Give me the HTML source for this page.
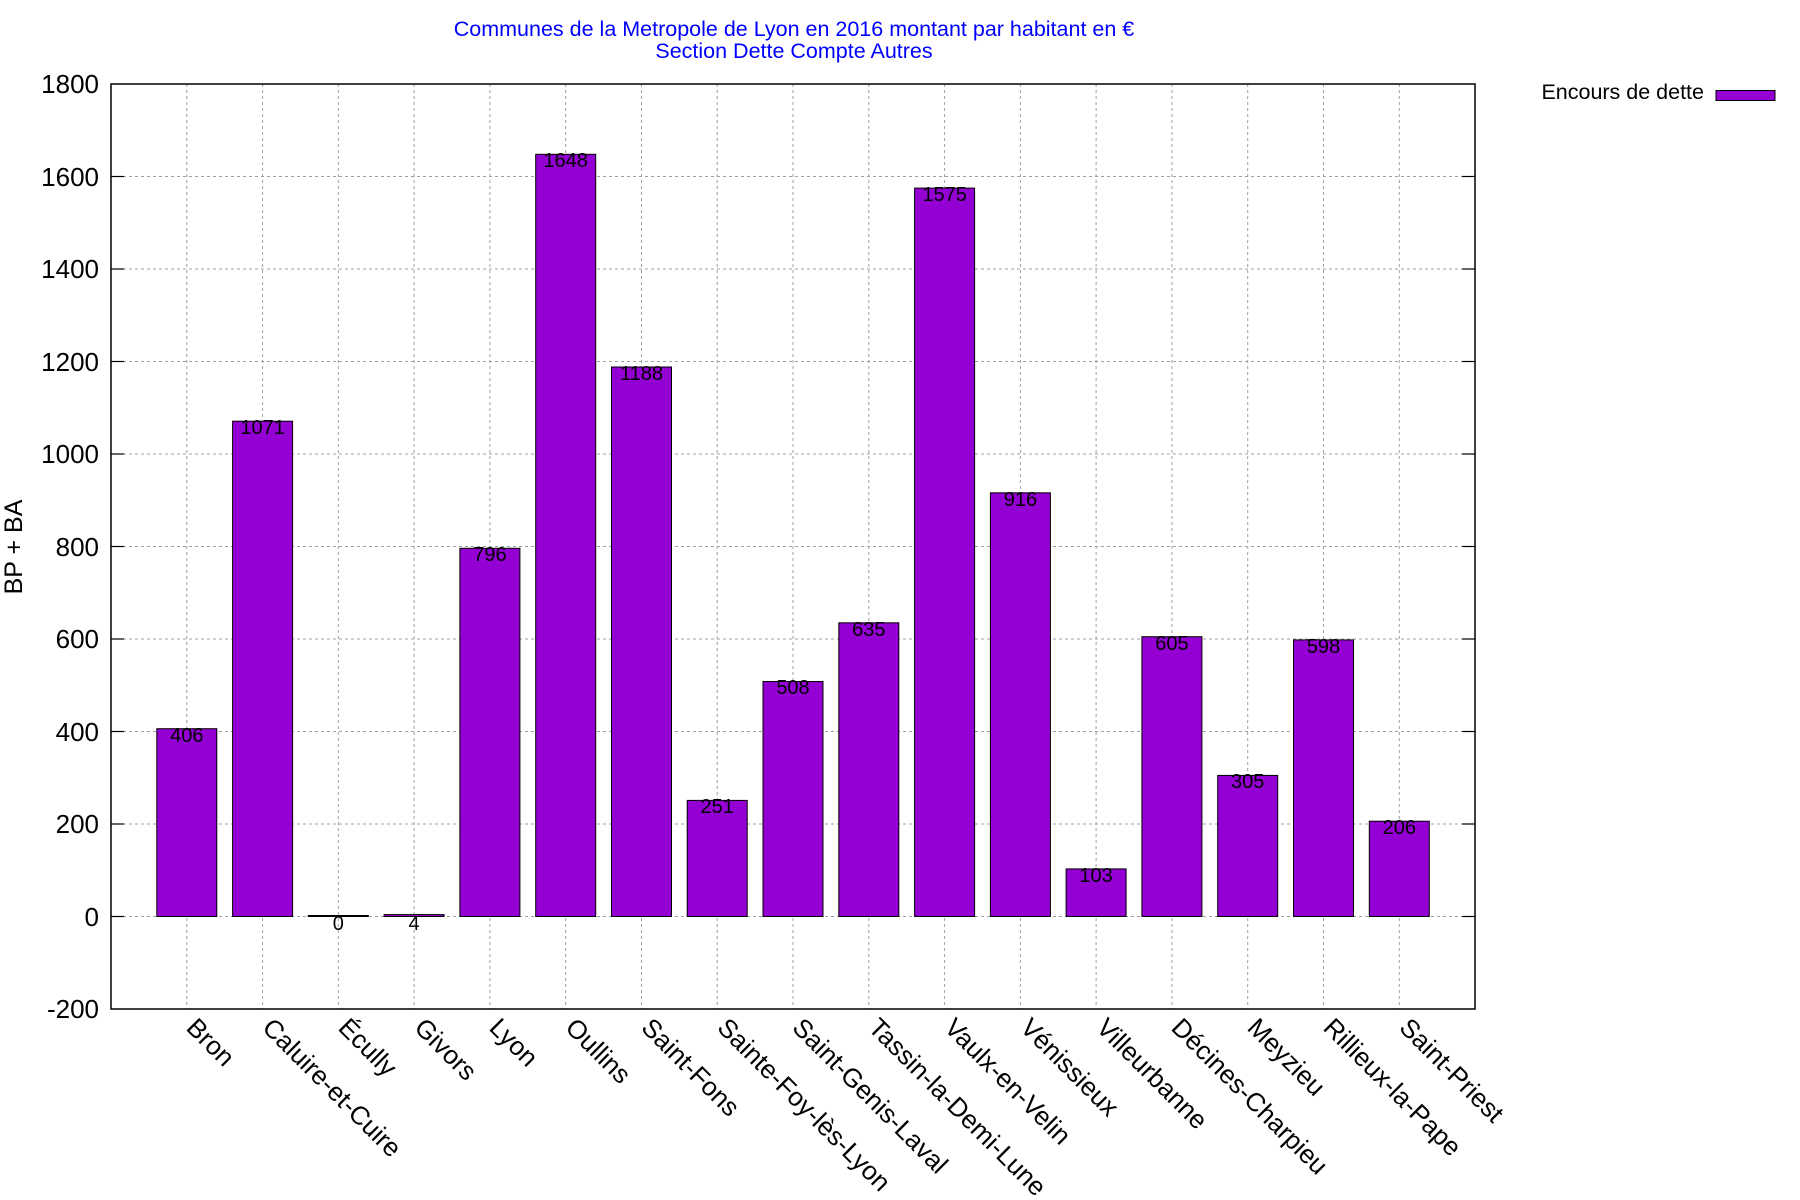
<!DOCTYPE html>
<html><head><meta charset="utf-8"><style>
html,body{margin:0;padding:0;background:#fff;}
svg{display:block;font-family:"Liberation Sans",Arial,sans-serif;}
</style></head><body>
<svg width="1800" height="1200" viewBox="0 0 1800 1200" xmlns="http://www.w3.org/2000/svg">
<rect width="1800" height="1200" fill="#fff"/>
<g stroke="#a0a0a0" stroke-width="1" stroke-dasharray="3,3">
<line x1="111" x2="1475" y1="176.5" y2="176.5"/>
<line x1="111" x2="1475" y1="269" y2="269"/>
<line x1="111" x2="1475" y1="361.5" y2="361.5"/>
<line x1="111" x2="1475" y1="454" y2="454"/>
<line x1="111" x2="1475" y1="546.5" y2="546.5"/>
<line x1="111" x2="1475" y1="639" y2="639"/>
<line x1="111" x2="1475" y1="731.5" y2="731.5"/>
<line x1="111" x2="1475" y1="824" y2="824"/>
<line x1="111" x2="1475" y1="916.5" y2="916.5"/>
<line x1="186.8" x2="186.8" y1="84" y2="1009"/>
<line x1="262.6" x2="262.6" y1="84" y2="1009"/>
<line x1="338.3" x2="338.3" y1="84" y2="1009"/>
<line x1="414.1" x2="414.1" y1="84" y2="1009"/>
<line x1="489.9" x2="489.9" y1="84" y2="1009"/>
<line x1="565.7" x2="565.7" y1="84" y2="1009"/>
<line x1="641.5" x2="641.5" y1="84" y2="1009"/>
<line x1="717.2" x2="717.2" y1="84" y2="1009"/>
<line x1="793" x2="793" y1="84" y2="1009"/>
<line x1="868.8" x2="868.8" y1="84" y2="1009"/>
<line x1="944.6" x2="944.6" y1="84" y2="1009"/>
<line x1="1020.4" x2="1020.4" y1="84" y2="1009"/>
<line x1="1096.1" x2="1096.1" y1="84" y2="1009"/>
<line x1="1171.9" x2="1171.9" y1="84" y2="1009"/>
<line x1="1247.7" x2="1247.7" y1="84" y2="1009"/>
<line x1="1323.5" x2="1323.5" y1="84" y2="1009"/>
<line x1="1399.3" x2="1399.3" y1="84" y2="1009"/>
</g>
<g fill="#9400d3" stroke="#000" stroke-width="1">
<rect x="156.8" y="728.7" width="60" height="187.8"/>
<rect x="232.6" y="421.2" width="60" height="495.3"/>
<rect x="308.3" y="915.5" width="60" height="1"/>
<rect x="384.1" y="914.6" width="60" height="1.9"/>
<rect x="459.9" y="548.3" width="60" height="368.2"/>
<rect x="535.7" y="154.3" width="60" height="762.2"/>
<rect x="611.5" y="367" width="60" height="549.5"/>
<rect x="687.2" y="800.4" width="60" height="116.1"/>
<rect x="763" y="681.5" width="60" height="235"/>
<rect x="838.8" y="622.8" width="60" height="293.7"/>
<rect x="914.6" y="188.1" width="60" height="728.4"/>
<rect x="990.4" y="492.8" width="60" height="423.7"/>
<rect x="1066.1" y="868.9" width="60" height="47.6"/>
<rect x="1141.9" y="636.7" width="60" height="279.8"/>
<rect x="1217.7" y="775.4" width="60" height="141.1"/>
<rect x="1293.5" y="639.9" width="60" height="276.6"/>
<rect x="1369.3" y="821.2" width="60" height="95.3"/>
</g>
<g stroke="#000" stroke-width="1.5" fill="none">
<rect x="111" y="84" width="1364" height="925"/>
</g>
<g stroke="#000" stroke-width="1.2">
<line x1="111" x2="124" y1="176.5" y2="176.5"/><line x1="1462" x2="1475" y1="176.5" y2="176.5"/>
<line x1="111" x2="124" y1="269" y2="269"/><line x1="1462" x2="1475" y1="269" y2="269"/>
<line x1="111" x2="124" y1="361.5" y2="361.5"/><line x1="1462" x2="1475" y1="361.5" y2="361.5"/>
<line x1="111" x2="124" y1="454" y2="454"/><line x1="1462" x2="1475" y1="454" y2="454"/>
<line x1="111" x2="124" y1="546.5" y2="546.5"/><line x1="1462" x2="1475" y1="546.5" y2="546.5"/>
<line x1="111" x2="124" y1="639" y2="639"/><line x1="1462" x2="1475" y1="639" y2="639"/>
<line x1="111" x2="124" y1="731.5" y2="731.5"/><line x1="1462" x2="1475" y1="731.5" y2="731.5"/>
<line x1="111" x2="124" y1="824" y2="824"/><line x1="1462" x2="1475" y1="824" y2="824"/>
<line x1="111" x2="124" y1="916.5" y2="916.5"/><line x1="1462" x2="1475" y1="916.5" y2="916.5"/>
</g>
<g font-size="26" text-anchor="end" fill="#000">
<text x="99" y="93">1800</text>
<text x="99" y="186">1600</text>
<text x="99" y="278">1400</text>
<text x="99" y="371">1200</text>
<text x="99" y="463">1000</text>
<text x="99" y="556">800</text>
<text x="99" y="648">600</text>
<text x="99" y="741">400</text>
<text x="99" y="833">200</text>
<text x="99" y="926">0</text>
<text x="99" y="1018">-200</text>
</g>
<text transform="translate(22,547) rotate(-90)" font-size="25" text-anchor="middle">BP + BA</text>
<g font-size="20" text-anchor="middle" fill="#000">
<text x="186.8" y="742">406</text>
<text x="262.6" y="434">1071</text>
<text x="338.3" y="930">0</text>
<text x="414.1" y="930">4</text>
<text x="489.9" y="561">796</text>
<text x="565.7" y="167">1648</text>
<text x="641.5" y="380">1188</text>
<text x="717.2" y="813">251</text>
<text x="793" y="694">508</text>
<text x="868.8" y="636">635</text>
<text x="944.6" y="201">1575</text>
<text x="1020.4" y="506">916</text>
<text x="1096.1" y="882">103</text>
<text x="1171.9" y="650">605</text>
<text x="1247.7" y="788">305</text>
<text x="1323.5" y="653">598</text>
<text x="1399.3" y="834">206</text>
</g>
<g font-size="26" fill="#000">
<text transform="translate(185,1029) rotate(45)">Bron</text>
<text transform="translate(261,1029) rotate(45)">Caluire-et-Cuire</text>
<text transform="translate(337,1029) rotate(45)">Écully</text>
<text transform="translate(413,1029) rotate(45)">Givors</text>
<text transform="translate(488,1029) rotate(45)">Lyon</text>
<text transform="translate(564,1029) rotate(45)">Oullins</text>
<text transform="translate(640,1029) rotate(45)">Saint-Fons</text>
<text transform="translate(716,1029) rotate(45)">Sainte-Foy-lès-Lyon</text>
<text transform="translate(791,1029) rotate(45)">Saint-Genis-Laval</text>
<text transform="translate(867,1029) rotate(45)">Tassin-la-Demi-Lune</text>
<text transform="translate(943,1029) rotate(45)">Vaulx-en-Velin</text>
<text transform="translate(1019,1029) rotate(45)">Vénissieux</text>
<text transform="translate(1095,1029) rotate(45)">Villeurbanne</text>
<text transform="translate(1170,1029) rotate(45)">Décines-Charpieu</text>
<text transform="translate(1246,1029) rotate(45)">Meyzieu</text>
<text transform="translate(1322,1029) rotate(45)">Rillieux-la-Pape</text>
<text transform="translate(1398,1029) rotate(45)">Saint-Priest</text>
</g>
<g font-size="21.5" fill="#0000ff" text-anchor="middle">
<text x="794" y="36">Communes de la Metropole de Lyon en 2016 montant par habitant en €</text>
<text x="794" y="58">Section Dette Compte Autres</text>
</g>
<text x="1704" y="99" font-size="21.5" text-anchor="end">Encours de dette</text>
<rect x="1716" y="90.5" width="59" height="10" fill="#9400d3" stroke="#000" stroke-width="1"/>
</svg>
</body></html>
